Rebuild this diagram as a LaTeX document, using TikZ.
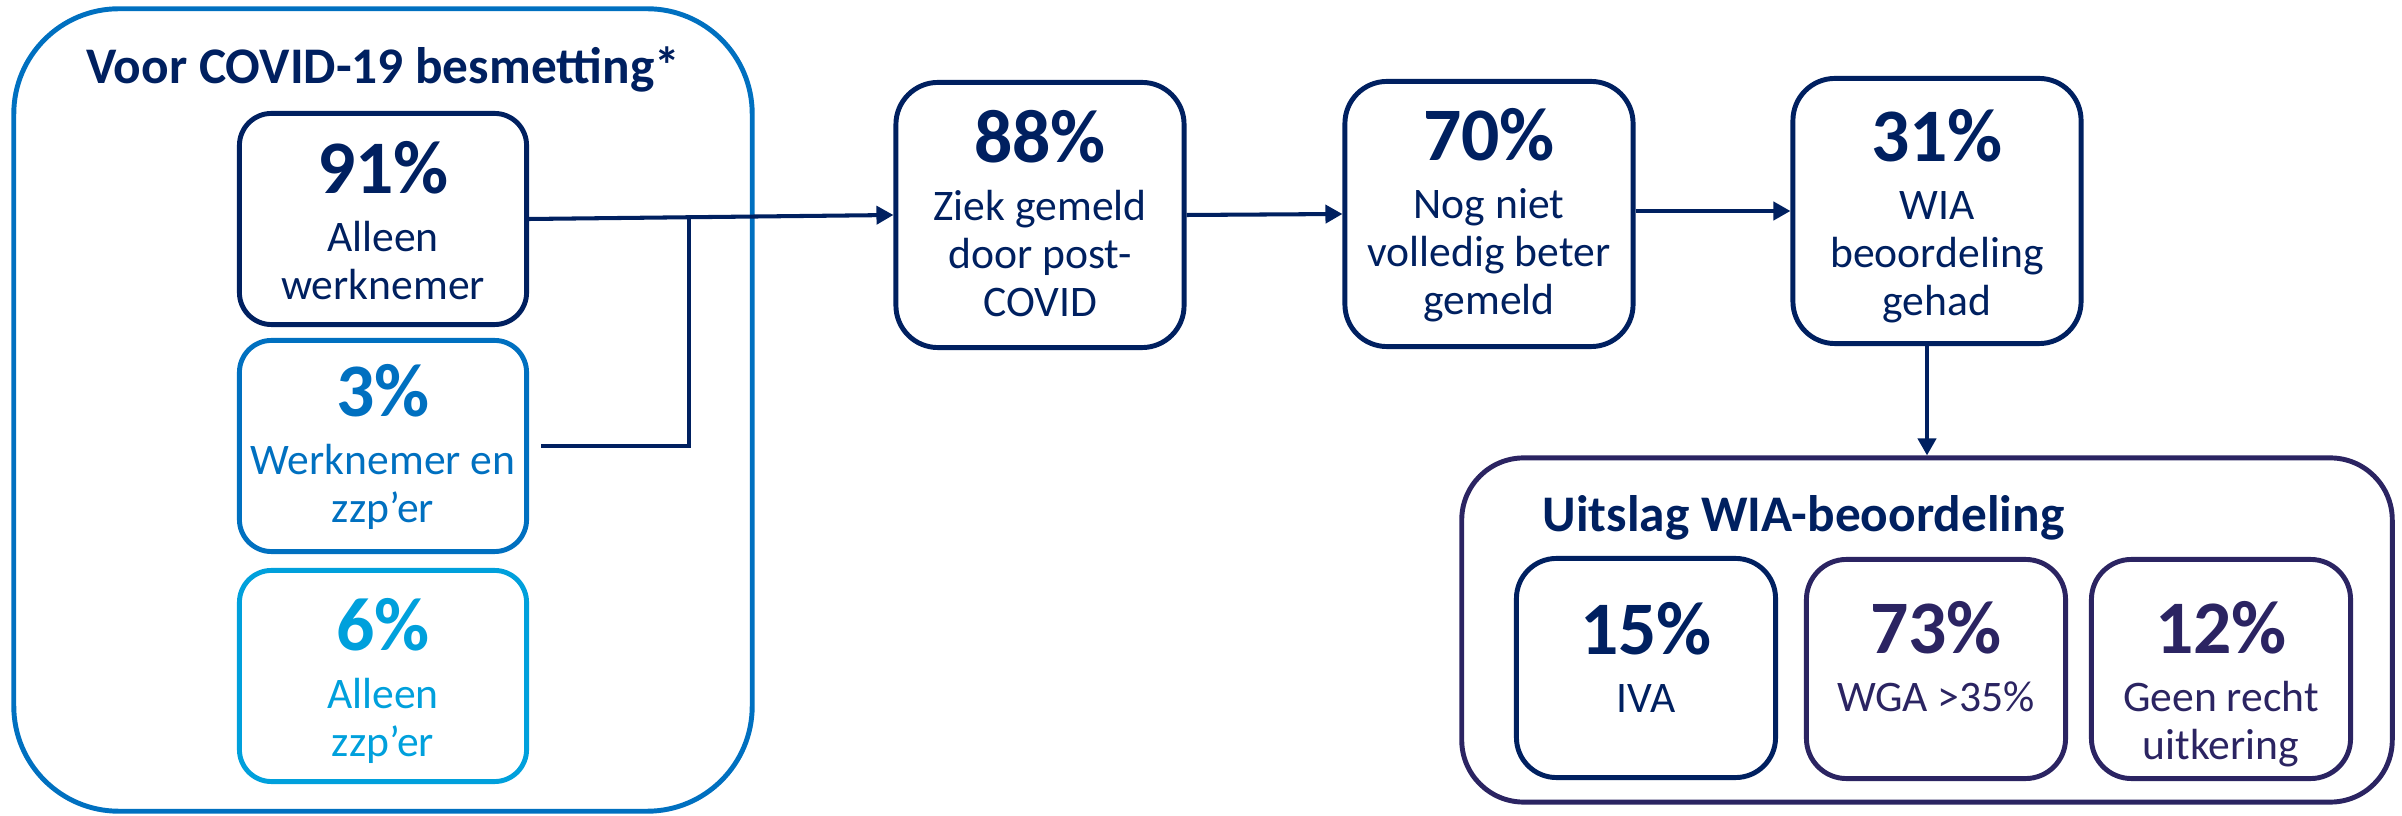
\documentclass[tikz,border=0pt]{standalone}
\usepackage{fontspec}
\setmainfont{Carlito}
\usetikzlibrary{positioning}
\usetikzlibrary{calc}
\usetikzlibrary{arrows.meta}
\definecolor{navy}{HTML}{002060}
\definecolor{midblue}{HTML}{0070C0}
\definecolor{lightblue}{HTML}{00A0DC}
\definecolor{wiapurple}{HTML}{2B2462}
\newcommand{\numfont}{\fontsize{21.5}{23}\selectfont\bfseries}
% box with a percentage and a caption below it
\newcommand{\statbox}[7]{%
  \node[#3, draw=#4] (#1) at (#2) {};
  \node[stattext, text=#4, below=#5 of #1.north] (#1txt) {{\numfont #6}\\[2.6pt]#7};
}

\begin{document}
\begin{tikzpicture}[x=0.01cm, y=-0.01cm,
    box/.style={line width=1.4pt, inner sep=0pt},
    leftbox/.style={box, minimum width=2.87cm, minimum height=2.11cm, rounded corners=0.32cm},
    flowbox/.style={box, minimum width=2.88cm, minimum height=2.65cm, rounded corners=0.42cm},
    resbox/.style={box, minimum width=2.59cm, minimum height=2.19cm, rounded corners=0.4cm},
    frame/.style={line width=1.4pt, inner sep=0pt, rounded corners=#1},
    stattext/.style={align=center, inner sep=0pt, font=\fontsize{12.4}{13.7}\selectfont},
    boxtitle/.style={inner sep=0pt, text=navy, font=\fontsize{14.6}{16}\selectfont\bfseries},
    conn/.style={draw=navy, line width=1.15pt},
    arr/.style={conn, -{Triangle[length=0.17cm, width=0.18cm]}}
  ]
  \useasboundingbox (0,0) rectangle (2402,816);

  % groups
  \node[frame=1.05cm, draw=midblue, minimum width=7.38cm, minimum height=8.02cm] (voor) at (383,410) {};
  \node[boxtitle, anchor=base] (voortitle) at (383,84) {Voor COVID-19 besmetting*};
  \node[frame=0.62cm, draw=wiapurple, minimum width=9.30cm, minimum height=3.44cm] (wia) at (1927,630) {};
  \node[boxtitle, anchor=base west] (wiatitle) at (1542,532) {Uitslag WIA-beoordeling};

  % before infection
  \statbox{b91}{383,219}{leftbox}{navy}{0.30cm}{91\%}{Alleen\\werknemer}
  \statbox{b3}{383,446}{leftbox}{midblue}{0.26cm}{3\%}{Werknemer en\\zzp’er}
  \statbox{b6}{383,676}{leftbox}{lightblue}{0.30cm}{6\%}{Alleen\\zzp’er}

  % flow
  \statbox{b88}{1040,215}{flowbox}{navy}{0.30cm}{88\%}{Ziek gemeld\\door post-\\COVID}
  \statbox{b70}{1489,214}{flowbox}{navy}{0.29cm}{70\%}{Nog niet\\volledig beter\\gemeld}
  \statbox{b31}{1937,211}{flowbox}{navy}{0.33cm}{31\%}{WIA\\beoordeling\\gehad}

  % outcome
  \statbox{b15}{1646,668}{resbox}{navy}{0.46cm}{15\%}{IVA}
  \statbox{b73}{1936,669}{resbox}{wiapurple}{0.44cm}{73\%}{WGA >35\%}
  \statbox{b12}{2221,669}{resbox}{wiapurple}{0.44cm}{12\%}{Geen recht\\uitkering}

  % connectors
  \coordinate (merge) at ($(b91.east)!0.44!(b88.west)$);
  \draw[arr] (b91.east) -- (b88.west);
  \draw[conn] ([xshift=0.12cm]b3.east) -| (merge);
  \draw[arr] (b88.east) -- (b70.west);
  \draw[arr] (b70.east |- b31.west) -- (b31.west);
  \draw[arr] (b31.south -| wia.north) -- (wia.north);
\end{tikzpicture}
\end{document}
